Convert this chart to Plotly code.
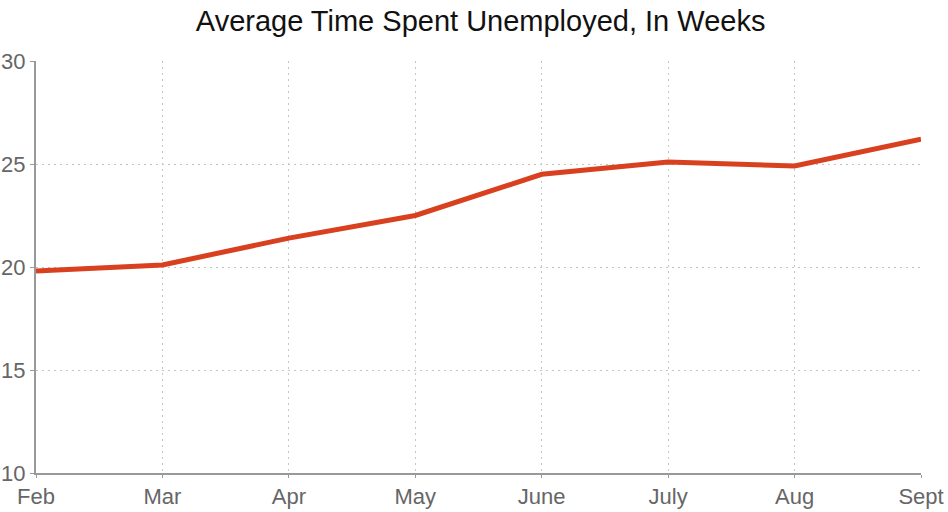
import plotly.graph_objects as go

months = ["Feb", "Mar", "Apr", "May", "June", "July", "Aug", "Sept"]
weeks = [19.8, 20.1, 21.4, 22.5, 24.5, 25.1, 24.9, 26.2]
y_ticks = [10, 15, 20, 25, 30]

fig = go.Figure()
fig.add_trace(
    go.Scatter(
        x=months,
        y=weeks,
        mode="lines",
        line={"color": "#d9401f", "width": 5},
        showlegend=False,
        cliponaxis=False,
    )
)

fig.update_layout(
    width=948,
    height=512,
    margin={"l": 36, "r": 27, "t": 61, "b": 39},
    paper_bgcolor="white",
    plot_bgcolor="white",
    font={"family": "Liberation Sans, Arial, sans-serif", "color": "#666666", "size": 22},
    title={
        "text": "Average Time Spent Unemployed, In Weeks",
        "x": 0.507,
        "xanchor": "center",
        "y": 0.959,
        "yanchor": "middle",
        "font": {"size": 29, "color": "#111111"},
    },
)
fig.update_xaxes(
    range=[0, len(months) - 1],
    automargin=False,
    showgrid=True,
    gridcolor="#c4c4c4",
    griddash="2px,4px",
    gridwidth=1,
    showline=True,
    linecolor="#999999",
    linewidth=2,
    ticks="outside",
    ticklen=3,
    tickcolor="#999999",
    zeroline=False,
)
fig.update_yaxes(
    range=[10, 30],
    tickvals=y_ticks,
    automargin=False,
    showgrid=True,
    gridcolor="#c4c4c4",
    griddash="2px,4px",
    gridwidth=1,
    showline=True,
    linecolor="#999999",
    linewidth=2,
    ticks="outside",
    ticklen=4,
    tickcolor="#999999",
    zeroline=False,
)

# drop the default 8px body margin so the figure fills the window
fig.write_html(
    "out.html",
    config={"displayModeBar": False},
    post_script="document.body.style.margin = '0';",
)
